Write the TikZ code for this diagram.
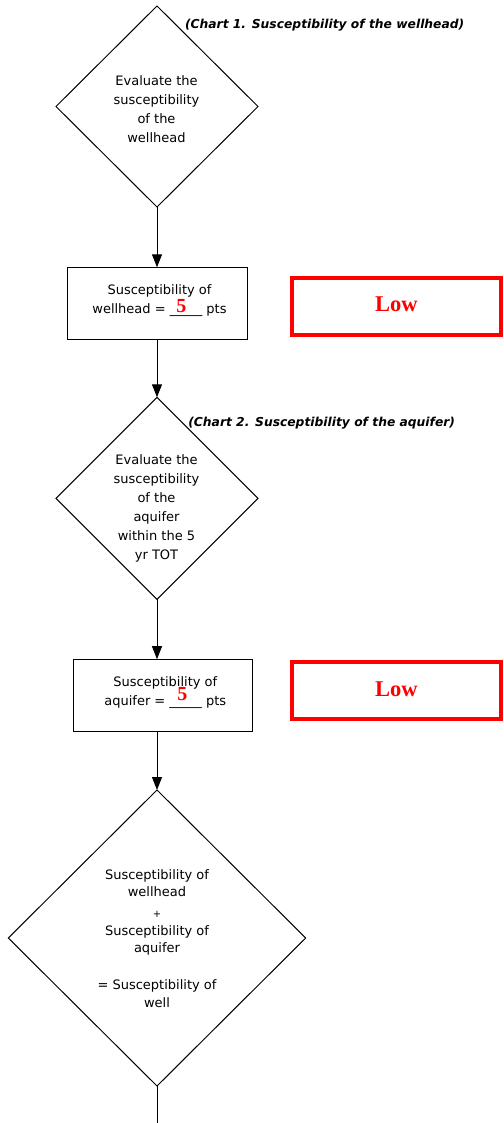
\documentclass[tikz,border=0pt]{standalone}
\usepackage{fontspec}
\setmainfont{DejaVu Sans}
\newfontfamily\serifbold{Liberation Serif}
\usetikzlibrary{shapes.geometric,arrows.meta}
\begin{document}
\begin{tikzpicture}[x=1pt,y=-1pt,
  every node/.style={inner sep=0pt,outer sep=0pt},
  dia/.style={draw,diamond,aspect=1,line width=1pt},
  stepbox/.style={draw,rectangle,line width=1pt,minimum width=179.5pt,minimum height=72pt},
  lowbox/.style={draw=red,rectangle,line width=4pt,minimum width=209.5pt,minimum height=57pt,
    font=\serifbold\bfseries\fontsize{22.5}{24}\selectfont,text=red,text depth=4pt},
  txt/.style={align=center,font=\fontsize{13}{19}\selectfont},
  chart/.style={anchor=west,font=\bfseries\itshape\fontsize{12.3}{14}\selectfont},
  pts/.style={anchor=base,text=red,font=\serifbold\bfseries\fontsize{20}{22}\selectfont},
  conn/.style={line width=1pt,-{Triangle[length=13pt,width=10pt]}},
  plain/.style={line width=1pt}]
\useasboundingbox (0,0) rectangle (503,1123);
% diamonds
\node[dia,minimum width=202pt,minimum height=201pt] (d1) at (157,106.5) {};
\node[dia,minimum width=202pt,minimum height=202pt] (d2) at (157,498.3) {};
\node[dia,minimum width=297.4pt,minimum height=296pt] (d3) at (157,938) {};
% diamond texts
\node[txt] (d1t) at (156.5,109) {Evaluate the\\susceptibility\\of the\\wellhead};
\node[txt] (d2t) at (156.5,508.8) {Evaluate the\\susceptibility\\of the\\aquifer\\within the 5\\yr TOT};
\node[txt,font=\fontsize{13}{17.5}\selectfont] (d3t) at (157,938.6)
  {Susceptibility of\\wellhead\\[3.5pt]{\fontsize{10}{10}\selectfont+}\\Susceptibility of\\aquifer\\[19.5pt]= Susceptibility of\\well};
% chart labels
\node[chart] (c1) at (185,25) {(Chart 1. Susceptibility of the wellhead)};
\node[chart] (c2) at (188.3,423.3) {(Chart 2. Susceptibility of the aquifer)};
% boxes
\node[stepbox] (b1) at (157.5,303.3) {};
\node[txt] (b1t) at (159.5,300.9) {Susceptibility of\\wellhead = \_\_\_\_\_ pts};
\node[pts] (p1) at (181.3,312.3) {5};
\node[stepbox] (b2) at (163,695.2) {};
\node[txt] (b2t) at (165.3,692.7) {Susceptibility of\\aquifer = \_\_\_\_\_ pts};
\node[pts] (p2) at (182.3,700) {5};
% low boxes
\node[lowbox] (l1) at (396.3,306.2) {Low};
\node[lowbox] (l2) at (396.3,690.8) {Low};
% connectors
\coordinate (e) at (157,1123);
\draw[conn] (d1.south) -- (b1.north -| d1.south);
\draw[conn] (b1.south -| d1.south) -- (d2.north);
\draw[conn] (d2.south) -- (b2.north -| d2.south);
\draw[conn] (b2.south -| d2.south) -- (d3.north);
\draw[plain] (d3.south) -- (e);
\end{tikzpicture}
\end{document}
